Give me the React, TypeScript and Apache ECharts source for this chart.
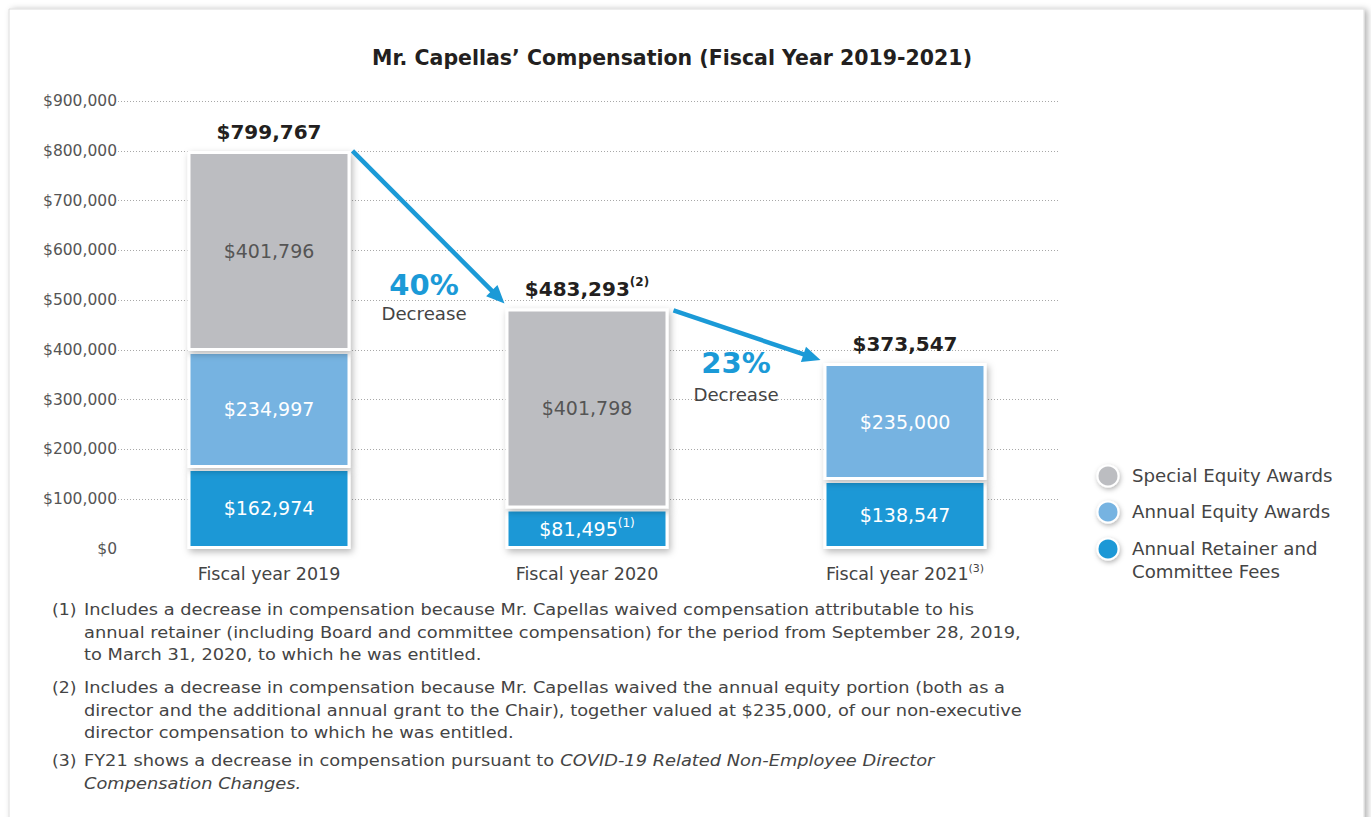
import React, { useEffect, useRef } from "react";
import * as echarts from "echarts";

const FONT = "DejaVu Sans";

const titleText = "Mr. Capellas\u2019 Compensation (Fiscal Year 2019-2021)";
const categories = ["Fiscal year 2019", "Fiscal year 2020", "Fiscal year 2021"];
const categoryNotes = ["", "", "(3)"];
const seriesNames = ["Annual Retainer and Committee Fees", "Annual Equity Awards", "Special Equity Awards"];
const retainerFees = [162974, 81495, 138547];
const retainerNotes = ["", "(1)", ""];
const annualEquity: (number | null)[] = [234997, null, 235000];
const specialEquity: (number | null)[] = [401796, 401798, null];
const totals = [799767, 483293, 373547];
const totalNotes = ["", "(2)", ""];
const decreases = ["40%", "23%"];
const decreaseWord = "Decrease";
const yMin = 0;
const yMax = 900000;
const yInterval = 100000;

const legendItems = [
  { name: "Special Equity Awards", label: "Special Equity Awards" },
  { name: "Annual Equity Awards", label: "Annual Equity Awards" },
  { name: "Annual Retainer and Committee Fees", label: "Annual Retainer and\nCommittee Fees" },
];

const footnoteNums = ["(1)", "(2)", "(3)"];
const footnoteLines = [
  [
    "Includes a decrease in compensation because Mr. Capellas waived compensation attributable to his",
    "annual retainer (including Board and committee compensation) for the period from September 28, 2019,",
    "to March 31, 2020, to which he was entitled.",
  ],
  [
    "Includes a decrease in compensation because Mr. Capellas waived the annual equity portion (both as a",
    "director and the additional annual grant to the Chair), together valued at $235,000, of our non-executive",
    "director compensation to which he was entitled.",
  ],
];
const footnote3Normal = "FY21 shows a decrease in compensation pursuant to ";
const footnote3Italic1 = "COVID-19 Related Non-Employee Director";
const footnote3Italic2 = "Compensation Changes.";

const GRAY = "#bcbdc1";
const LIGHT = "#76b3e1";
const BLUE = "#1b98d6";
const ARROW = "#1b9ad7";
const colorByName: Record<string, string> = {
  "Special Equity Awards": GRAY,
  "Annual Equity Awards": LIGHT,
  "Annual Retainer and Committee Fees": BLUE,
};

const money = (v: number) => "$" + v.toLocaleString("en-US");

const BAR_W = 163;
const barItemStyle = (color: string) => ({
  color,
  borderColor: "#ffffff",
  borderWidth: 3,
  shadowBlur: 7,
  shadowColor: "rgba(0,0,0,0.28)",
  shadowOffsetX: 2,
  shadowOffsetY: 3,
});

function arrow(x1: number, y1: number, x2: number, y2: number, id: string) {
  const dx = x2 - x1;
  const dy = y2 - y1;
  const len = Math.sqrt(dx * dx + dy * dy);
  const ux = dx / len;
  const uy = dy / len;
  const headLen = 18;
  const halfW = 8;
  const bx = x2 - ux * headLen;
  const by = y2 - uy * headLen;
  const px = -uy;
  const py = ux;
  return [
    {
      type: "line",
      id: id + "-line",
      z: 10,
      shape: { x1, y1, x2: bx + ux * 2, y2: by + uy * 2 },
      style: { stroke: ARROW, lineWidth: 4.5 },
    },
    {
      type: "polygon",
      id: id + "-head",
      z: 10,
      shape: {
        points: [
          [x2, y2],
          [bx + px * halfW, by + py * halfW],
          [bx - px * halfW, by - py * halfW],
        ],
      },
      style: { fill: ARROW },
    },
  ];
}

export default function App() {
  const ref = useRef<HTMLDivElement>(null);

  useEffect(() => {
    if (!ref.current) return;
    const chart = echarts.init(ref.current, null, { renderer: "svg" });

    const option: any = {
      animation: false,
      textStyle: { fontFamily: FONT },
      title: {
        text: titleText,
        left: 372,
        top: 47,
        padding: 0,
        textStyle: { fontSize: 20.5, fontWeight: "bold", color: "#231f20", fontFamily: FONT },
      },
      grid: [
        // grid 0: gridlines and value labels
        { left: 118, right: 313, top: 101, bottom: 268, containLabel: false },
        // grid 1: bars and category labels
        { left: 110, right: 307, top: 101, bottom: 268, containLabel: false },
      ],
      xAxis: [
        {
          type: "category",
          gridIndex: 0,
          data: categories,
          show: false,
        },
        {
          type: "category",
          gridIndex: 1,
          data: categories,
          axisLine: { show: false },
          axisTick: { show: false },
          axisLabel: {
            margin: 14,
            formatter: (v: string, i: number) =>
              categoryNotes[i] ? `{a|${v}}{sup|${categoryNotes[i]}}` : `{a|${v}}`,
            rich: {
              a: { fontSize: 17.5, color: "#444", fontFamily: FONT, lineHeight: 22 },
              sup: { fontSize: 11, color: "#444", verticalAlign: "top", fontFamily: FONT },
            },
          },
        },
      ],
      yAxis: [
        {
          type: "value",
          gridIndex: 0,
          min: yMin,
          max: yMax,
          interval: yInterval,
          axisLine: { show: false },
          axisTick: { show: false },
          axisLabel: {
            margin: 1,
            color: "#555",
            fontSize: 15.5,
            formatter: (v: number) => money(v),
          },
          splitLine: {
            show: true,
            lineStyle: {
              type: [1, 2],
              width: 1,
              color: ["rgba(0,0,0,0)", "#a8a8a8", "#a8a8a8", "#a8a8a8", "#a8a8a8", "#a8a8a8", "#a8a8a8", "#a8a8a8", "#a8a8a8", "#a8a8a8"],
            },
          },
        },
        {
          type: "value",
          gridIndex: 1,
          min: yMin,
          max: yMax,
          interval: yInterval,
          show: false,
          splitLine: { show: false },
        },
      ],
      series: [
        {
          name: seriesNames[0],
          type: "bar",
          xAxisIndex: 1,
          yAxisIndex: 1,
          stack: "total",
          barWidth: BAR_W,
          barGap: "-100%",
          data: retainerFees,
          itemStyle: barItemStyle(BLUE),
          label: {
            show: true,
            position: "inside",
            formatter: (p: any) =>
              retainerNotes[p.dataIndex]
                ? `{m|${money(p.value)}}{sup|${retainerNotes[p.dataIndex]}}`
                : `{m|${money(p.value)}}`,
            rich: {
              m: { fontSize: 19, color: "#fff", fontFamily: FONT, lineHeight: 24 },
              sup: { fontSize: 12, color: "#fff", verticalAlign: "top", fontFamily: FONT },
            },
          },
        },
        {
          name: seriesNames[1],
          type: "bar",
          xAxisIndex: 1,
          yAxisIndex: 1,
          stack: "total",
          barWidth: BAR_W,
          barGap: "-100%",
          data: annualEquity,
          itemStyle: barItemStyle(LIGHT),
          label: {
            show: true,
            position: "inside",
            color: "#fff",
            fontSize: 19,
            formatter: (p: any) => money(p.value),
          },
        },
        {
          name: seriesNames[2],
          type: "bar",
          xAxisIndex: 1,
          yAxisIndex: 1,
          stack: "total",
          barWidth: BAR_W,
          barGap: "-100%",
          data: specialEquity,
          itemStyle: barItemStyle(GRAY),
          label: {
            show: true,
            position: "inside",
            color: "#555",
            fontSize: 19,
            formatter: (p: any) => money(p.value),
          },
        },
        {
          name: "Total",
          type: "bar",
          xAxisIndex: 1,
          yAxisIndex: 1,
          barWidth: BAR_W,
          barGap: "-100%",
          silent: true,
          z: 1,
          data: totals,
          itemStyle: { color: "rgba(0,0,0,0)" },
          label: {
            show: true,
            position: "top",
            distance: 6,
            formatter: (p: any) =>
              totalNotes[p.dataIndex]
                ? `{t|${money(p.value)}}{sup|${totalNotes[p.dataIndex]}}`
                : `{t|${money(p.value)}}`,
            rich: {
              t: { fontSize: 20, fontWeight: "bold", color: "#231f20", fontFamily: FONT, lineHeight: 26 },
              sup: { fontSize: 12, fontWeight: "bold", color: "#231f20", verticalAlign: "top", fontFamily: FONT },
            },
          },
        },
      ],
    };
    chart.setOption(option);

    const px = (i: number, v: number) => chart.convertToPixel({ gridIndex: 1 }, [i, v]) as number[];
    const halfBar = BAR_W / 2;
    const p0 = px(0, totals[0]);
    const p1 = px(1, totals[1]);
    const p2 = px(2, totals[2]);

    const graphics: any[] = [];
    // card
    graphics.push({
      type: "rect",
      id: "card",
      z: -10,
      silent: true,
      shape: { x: 9, y: 9, width: 1355, height: 840 },
      style: {
        fill: "#fff",
        stroke: "#dcdcdc",
        lineWidth: 1,
        shadowBlur: 6,
        shadowOffsetX: 3,
        shadowOffsetY: 1,
        shadowColor: "rgba(0,0,0,0.3)",
      },
    });
    // arrows
    graphics.push(...arrow(p0[0] + halfBar + 2, p0[1], p1[0] - halfBar - 1, p1[1] - 5, "a1"));
    graphics.push(...arrow(p1[0] + halfBar + 5, p1[1] + 2, p2[0] - halfBar - 3, p2[1] - 3, "a2"));

    const decPos = [
      [424, 285, 314],
      [736, 363, 395],
    ];
    decreases.forEach((d, i) => {
      graphics.push({
        type: "text",
        id: "dec" + i,
        z: 10,
        style: {
          text: d,
          x: decPos[i][0],
          y: decPos[i][1],
          align: "center",
          verticalAlign: "middle",
          fill: ARROW,
          font: `bold 29px '${FONT}'`,
        },
      });
      graphics.push({
        type: "text",
        id: "decw" + i,
        z: 10,
        x: decPos[i][0],
        y: decPos[i][2],
        scaleX: 1.07,
        style: {
          text: decreaseWord,
          x: 0,
          y: 0,
          align: "center",
          verticalAlign: "middle",
          fill: "#444",
          font: `17px '${FONT}'`,
        },
      });
    });

    // legend
    const legendY = [476, 512, 549];
    legendItems.forEach((it, i) => {
      graphics.push({
        type: "circle",
        id: "lg-c" + i,
        z: 5,
        shape: { cx: 1108, cy: legendY[i], r: 10.5 },
        style: {
          fill: colorByName[it.name],
          stroke: "#fff",
          lineWidth: 2,
          shadowBlur: 5,
          shadowOffsetX: 1,
          shadowOffsetY: 2,
          shadowColor: "rgba(0,0,0,0.3)",
        },
      });
      graphics.push({
        type: "text",
        id: "lg-t" + i,
        z: 5,
        x: 1132,
        y: legendY[i] - 11.5,
        scaleX: 1.07,
        style: {
          text: it.label,
          x: 0,
          y: 0,
          align: "left",
          verticalAlign: "top",
          lineHeight: 23,
          fill: "#444",
          font: `17px '${FONT}'`,
        },
      });
    });

    // footnotes
    const fnTop = [598, 676, 749];
    const LH = 22.5;
    const FN_SX = 1.08;
    const FN_SIZE = 16.5;
    footnoteNums.forEach((n, i) => {
      graphics.push({
        type: "text",
        id: "fn-n" + i,
        x: 52,
        y: fnTop[i],
        scaleX: 1.05,
        style: {
          text: n,
          x: 0,
          y: 0,
          verticalAlign: "top",
          lineHeight: LH,
          fill: "#444",
          font: `${FN_SIZE}px '${FONT}'`,
        },
      });
    });
    footnoteLines.forEach((lines, i) => {
      graphics.push({
        type: "text",
        id: "fn-b" + i,
        x: 84,
        y: fnTop[i],
        scaleX: FN_SX,
        style: {
          text: lines.join("\n"),
          x: 0,
          y: 0,
          verticalAlign: "top",
          lineHeight: LH,
          fill: "#444",
          font: `${FN_SIZE}px '${FONT}'`,
        },
      });
    });
    graphics.push({
      type: "text",
      id: "fn-b2",
      x: 84,
      y: fnTop[2],
      scaleX: FN_SX,
      style: {
        text: `{n|${footnote3Normal}}{i|${footnote3Italic1}}\n{i|${footnote3Italic2}}`,
        x: 0,
        y: 0,
        verticalAlign: "top",
        fill: "#444",
        font: `${FN_SIZE}px '${FONT}'`,
        rich: {
          n: { fontSize: FN_SIZE, fontFamily: FONT, fill: "#444", lineHeight: LH },
          i: { fontSize: FN_SIZE, fontFamily: FONT, fontStyle: "italic", fill: "#444", lineHeight: LH },
        },
      },
    });

    chart.setOption({ graphic: graphics });

    return () => {
      chart.dispose();
    };
  }, []);

  return (
    <div
      ref={ref}
      style={{ position: "absolute", left: 0, top: 0, width: 1371, height: 817, background: "#fff" }}
    />
  );
}
